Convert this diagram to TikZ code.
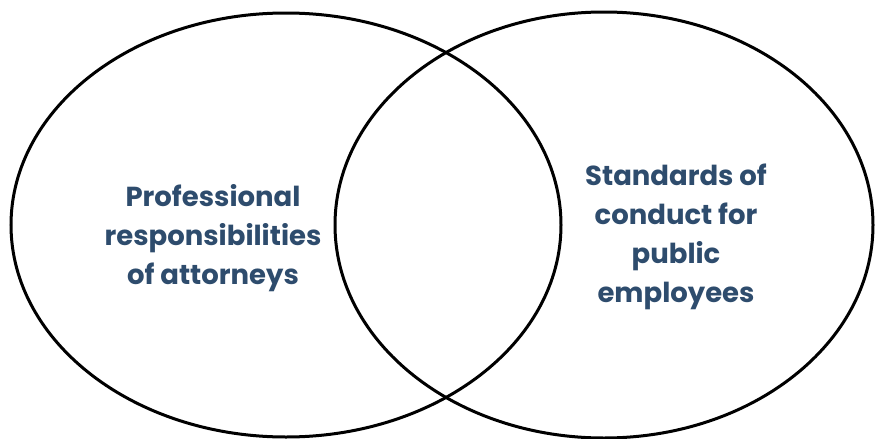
\documentclass[tikz,border=0pt]{standalone}
\usepackage{fontspec}
\setmainfont{Poppins}
\usetikzlibrary{shapes.geometric}
\definecolor{txtblue}{RGB}{46,76,109}
\tikzset{
  setring/.style={draw=black, line width=3pt, ellipse, inner sep=0pt, fill=none},
  label/.style={text=txtblue, align=center, font=\fontsize{27.5}{39}\selectfont\bfseries}
}
\begin{document}
\begin{tikzpicture}[x=1pt,y=-1pt]
\useasboundingbox (0,0) rectangle (876,439);
\fill[white] (0,0) rectangle (876,439);
\node[setring, minimum width=550pt, minimum height=424pt] (L) at (286,225) {};
\node[setring, minimum width=538pt, minimum height=426pt] (R) at (604,225) {};
\node[label] (lt) at (213,238) {Professional\\responsibilities\\of attorneys};
\node[label] (rt) at (676,237) {Standards of\\conduct for\\public\\employees};
\end{tikzpicture}
\end{document}
